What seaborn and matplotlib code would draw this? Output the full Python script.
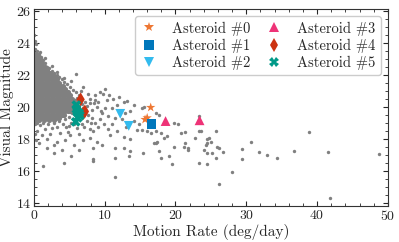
import numpy as np
import pandas as pd
import matplotlib
matplotlib.use("Agg")
import matplotlib.pyplot as plt
import seaborn as sns
from matplotlib.ticker import MultipleLocator

# dense core of the background population: (visual magnitude, [motion rates])
core_rows = [
    (23.3, [0.15, 0.3]),
    (23.1, [0.1, 0.4, 0.7]),
    (22.9, [0.25, 0.6, 0.95]),
    (22.7, [0.1, 0.45, 0.8, 1.15]),
    (22.5, [0.25, 0.6, 0.95, 1.3, 1.6]),
    (22.3, [0.1, 0.45, 0.8, 1.15, 1.5, 1.85]),
    (22.1, [0.25, 0.6, 0.95, 1.3, 1.65, 2.0, 2.3]),
    (21.9, [0.1, 0.45, 0.8, 1.15, 1.5, 1.85, 2.2, 2.55, 2.8]),
    (21.7, [0.25, 0.6, 0.95, 1.3, 1.65, 2.0, 2.35, 2.7, 3.05, 3.3]),
    (21.5, [0.1, 0.45, 0.8, 1.15, 1.5, 1.85, 2.2, 2.55, 2.9, 3.25, 3.6]),
    (21.3, [0.25, 0.6, 0.95, 1.3, 1.65, 2.0, 2.35, 2.7, 3.05, 3.4, 3.75, 4.05]),
    (21.1, [0.1, 0.45, 0.8, 1.15, 1.5, 1.85, 2.2, 2.55, 2.9, 3.25, 3.6, 3.95, 4.35]),
    (20.9, [0.25, 0.6, 0.95, 1.3, 1.65, 2.0, 2.35, 2.7, 3.05, 3.4, 3.75, 4.1, 4.45, 4.8]),
    (20.7, [0.1, 0.45, 0.8, 1.15, 1.5, 1.85, 2.2, 2.55, 2.9, 3.25, 3.6, 3.95, 4.3, 4.65, 5.05]),
    (20.5, [0.25, 0.6, 0.95, 1.3, 1.65, 2.0, 2.35, 2.7, 3.05, 3.4, 3.75, 4.1, 4.45, 4.8, 5.15, 5.4]),
    (20.3, [0.1, 0.45, 0.8, 1.15, 1.5, 1.85, 2.2, 2.55, 2.9, 3.25, 3.6, 3.95, 4.3, 4.65, 5.0, 5.35, 5.6]),
    (20.1, [0.25, 0.6, 0.95, 1.3, 1.65, 2.0, 2.35, 2.7, 3.05, 3.4, 3.75, 4.1, 4.45, 4.8, 5.15, 5.5]),
    (19.9, [0.1, 0.45, 0.8, 1.15, 1.5, 1.85, 2.2, 2.55, 2.9, 3.25, 3.6, 3.95, 4.3, 4.65, 5.0, 5.3]),
    (19.7, [0.25, 0.6, 0.95, 1.3, 1.65, 2.0, 2.35, 2.7, 3.05, 3.4, 3.75, 4.1, 4.45, 4.8, 5.1]),
    (19.5, [0.1, 0.45, 0.8, 1.15, 1.5, 1.85, 2.2, 2.55, 2.9, 3.25, 3.6, 3.95, 4.3]),
    (19.3, [0.25, 0.6, 0.95, 1.3, 1.65, 2.0, 2.35, 2.7, 3.1, 3.5]),
    (19.15, [0.15, 0.7, 1.4, 2.1, 2.8]),
]

# scattered background objects (motion rate, magnitude)
bg_pts = [
    # upper fringe
    (0.05, 24.5), (0.1, 24.1), (0.35, 23.9), (0.2, 23.6), (0.5, 23.5), (0.7, 23.3),
    (1.0, 23.1), (1.3, 22.9), (1.6, 22.75), (1.9, 22.5), (2.2, 22.4), (2.5, 22.25),
    (2.8, 22.1), (3.2, 21.95), (3.5, 21.85), (3.9, 21.7), (4.3, 21.55), (4.7, 21.4),
    (5.1, 21.25), (5.5, 21.05), (5.9, 20.9), (6.0, 22.05), (5.2, 21.6), (4.2, 21.8),
    (3.3, 22.15), (2.6, 22.55), (6.3, 20.7), (6.6, 21.0), (7.0, 21.2), (7.7, 20.8),
    (8.65, 20.7), (9.8, 20.8), (0.9, 23.4), (1.5, 23.05), (6.1, 20.55),
    # right of the core
    (5.8, 20.4), (6.2, 20.3), (6.8, 20.15), (7.2, 20.3), (7.5, 20.05), (7.9, 20.5),
    (8.2, 19.8), (8.5, 20.2), (8.9, 20.0), (7.95, 20.2), (8.65, 20.4), (9.1, 20.3),
    (9.5, 19.7), (6.9, 19.9), (7.6, 19.5), (8.0, 19.0), (7.5, 19.1), (8.2, 19.3),
    (8.65, 18.95), (9.4, 19.2), (9.6, 19.6), (10.1, 19.9), (10.3, 20.4), (10.5, 19.4),
    (11.0, 19.9), (11.2, 20.46), (11.5, 19.3), (11.7, 20.1), (12.4, 19.2), (12.7, 20.3),
    (11.0, 18.9), (5.4, 19.6), (5.6, 19.2), (5.3, 19.0), (4.9, 19.35), (6.8, 18.9),
    (6.05, 18.65), (7.1, 18.7), (7.9, 18.6), (9.0, 18.7), (9.9, 18.9), (10.4, 18.6),
    (12.9, 19.6), (13.6, 19.7), (13.0, 18.7), (14.1, 19.1), (14.8, 18.9), (14.1, 20.1),
    (15.2, 19.9), (14.5, 18.55), (13.6, 18.0), (12.7, 18.1), (11.7, 18.45), (10.8, 18.25),
    (8.4, 18.45), (7.9, 18.05), (8.9, 17.8), (7.0, 17.9), (9.6, 17.6), (8.4, 17.4),
    (11.5, 17.4), (12.7, 17.4), (13.6, 17.25), (8.4, 16.7), (11.5, 16.8), (13.4, 16.9),
    (9.3, 20.9), (10.6, 20.7), (12.0, 20.6), (13.2, 20.35), (10.0, 21.1),
    (11.5, 15.6), (8.4, 16.6),
    # below the core
    (0.2, 18.9), (0.5, 19.0), (0.9, 18.85), (0.4, 18.45), (1.3, 18.95), (1.6, 18.6),
    (2.0, 18.9), (2.5, 18.65), (2.9, 18.95), (3.3, 18.7), (3.7, 18.35), (4.1, 18.9),
    (4.6, 18.75), (5.1, 18.25), (5.0, 18.8), (3.2, 17.8), (1.8, 18.0), (1.1, 18.2),
    (0.7, 17.7), (2.3, 18.3), (2.8, 17.6), (4.4, 17.9), (5.6, 17.6), (6.3, 17.3),
    (2.8, 17.1), (4.2, 16.5), (1.35, 16.3), (5.2, 16.9), (0.3, 17.9), (1.9, 17.4),
    (3.9, 17.3), (4.8, 18.4), (5.7, 18.9), (6.4, 18.3), (3.5, 19.1), (4.4, 19.2),
    (1.0, 19.2), (0.15, 18.3),
    # 15 - 26 deg/day
    (15.5, 19.95), (17.2, 19.6), (17.65, 19.5), (19.8, 18.97), (20.3, 18.9), (20.8, 18.35),
    (21.4, 18.4), (22.8, 18.04), (23.3, 19.4), (23.3, 18.5), (23.55, 18.5), (24.7, 18.04),
    (24.5, 17.7), (25.0, 17.8), (25.7, 18.45), (24.0, 17.3), (24.5, 17.1), (25.2, 17.1),
    (26.1, 17.4), (23.3, 16.5), (24.5, 16.4), (26.1, 15.2), (21.2, 17.5), (21.7, 17.3),
    (19.8, 17.5), (19.1, 16.9), (19.5, 16.4), (17.65, 17.2), (17.9, 16.8), (15.4, 17.1),
    (17.2, 18.45), (16.9, 17.7), (17.2, 17.7), (18.35, 18.05), (18.8, 18.15), (16.5, 18.35),
    (17.9, 18.35), (17.4, 17.8), (16.0, 18.45), (15.3, 18.55), (21.4, 17.7), (21.7, 17.4),
    (24.3, 17.6), (24.5, 18.0),
    # fast movers
    (25.8, 17.5), (25.7, 16.8), (26.7, 17.15), (28.0, 15.9), (29.35, 17.35), (29.45, 16.75),
    (30.7, 17.8), (31.8, 17.15), (33.0, 16.95), (34.4, 16.8), (36.8, 17.25), (38.8, 18.4),
    (41.6, 17.15), (41.8, 14.3), (48.7, 17.05),
]

# highlighted asteroids
ast_names = ["Asteroid #0", "Asteroid #1", "Asteroid #2",
             "Asteroid #3", "Asteroid #4", "Asteroid #5"]
ast0_x, ast0_y = [16.5, 16.0, 15.7], [19.95, 19.3, 19.2]
ast1_x, ast1_y = [16.6], [18.9]
ast2_x, ast2_y = [12.2, 13.4], [19.55, 18.8]
ast3_x, ast3_y = [18.6, 23.4], [19.1, 19.15]
ast4_x, ast4_y = [6.6, 7.2, 7.0], [20.45, 19.7, 19.6]
ast5_x, ast5_y = [6.0, 6.1, 6.5, 5.9, 6.2, 6.0, 6.4], [20.1, 19.7, 19.45, 19.05, 19.3, 19.85, 19.6]

colors = ["#EE7733", "#0077BB", "#33BBEE", "#EE3377", "#CC3311", "#009988"]
markers = ["*", "s", "v", "^", "d", "X"]

core = pd.DataFrame([(x, y) for y, xs in core_rows for x in xs], columns=["rate", "mag"])
bg = pd.DataFrame(bg_pts, columns=["rate", "mag"])

rows = []
for name, xs, ys in zip(ast_names,
                        [ast0_x, ast1_x, ast2_x, ast3_x, ast4_x, ast5_x],
                        [ast0_y, ast1_y, ast2_y, ast3_y, ast4_y, ast5_y]):
    for x, y in zip(xs, ys):
        rows.append((name, x, y))
ast = pd.DataFrame(rows, columns=["name", "rate", "mag"])

sns.set_style("ticks")
plt.rcParams["font.family"] = "serif"
plt.rcParams["font.serif"] = ["cmr10", "DejaVu Serif"]
plt.rcParams["mathtext.fontset"] = "cm"
plt.rcParams["axes.formatter.use_mathtext"] = True

fig = plt.figure(figsize=(3.99, 2.42), dpi=100)
ax = fig.add_axes([0.085, 0.149, 0.887, 0.814])

gray = "#808080"
sns.scatterplot(data=core, x="rate", y="mag", color=gray, s=14,
                linewidth=0, ax=ax, legend=False, zorder=1)
sns.scatterplot(data=bg, x="rate", y="mag", color=gray, s=6,
                linewidth=0, ax=ax, legend=False, zorder=1)
sns.scatterplot(data=ast, x="rate", y="mag", hue="name", style="name",
                hue_order=ast_names, style_order=ast_names,
                palette=dict(zip(ast_names, colors)),
                markers=dict(zip(ast_names, markers)),
                s=50, linewidth=0, ax=ax, zorder=3)

ax.set_xlim(0, 50)
ax.set_ylim(13.8, 26.1)
ax.xaxis.set_major_locator(MultipleLocator(10))
ax.xaxis.set_minor_locator(MultipleLocator(2))
ax.yaxis.set_major_locator(MultipleLocator(2))
ax.yaxis.set_minor_locator(MultipleLocator(0.5))
ax.tick_params(which="both", direction="in", top=True, right=True,
               labelsize=10, pad=2)
ax.tick_params(which="major", length=3.5)
ax.tick_params(which="minor", length=2)
for s in ax.spines.values():
    s.set_color("#333333")
ax.set_xlabel("Motion Rate (deg/day)", fontsize=11, labelpad=1)
ax.set_ylabel("Visual Magnitude", fontsize=11, labelpad=1)

handles, labels = ax.get_legend_handles_labels()
ax.legend(handles, labels, ncol=2, loc="upper right", fontsize=10.5,
          frameon=True, edgecolor="#cccccc", framealpha=1,
          handlelength=1.2, columnspacing=1.0, handletextpad=1.0,
          borderpad=0.35, labelspacing=0.2, borderaxespad=0.5)

fig.savefig("out.png", dpi=100)
